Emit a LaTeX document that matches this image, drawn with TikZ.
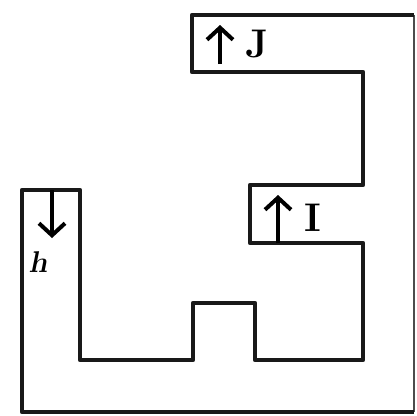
\documentclass[tikz,border=0pt]{standalone}
\usetikzlibrary{arrows.meta}
\begin{document}
\begin{tikzpicture}[x=1pt,y=-1pt,
  wall/.style={line width=4.5pt,line join=round,draw=black!90},
  frame/.style={line width=2pt,draw=black!70},
  upar/.style={line width=4pt,-{Straight Barb[length=12pt,width=26pt,line width=4pt]}},
  lbl/.style={font=\fontsize{40}{40}\selectfont\bfseries,inner sep=0pt}]
\useasboundingbox (0,0) rectangle (417,415);
\draw[frame] (414,15) -- (414,412);
\draw[wall] (414,15) -- (192,15) -- (192,72) -- (363,72) -- (363,185) -- (250,185)
  -- (250,243) -- (363,243) -- (363,360) -- (255,360) -- (255,303) -- (193,303)
  -- (193,360) -- (80,360) -- (80,190) -- (22,190) -- (22,412) -- (414,412);
\coordinate (ja) at (220,64);
\coordinate (jb) at (220,25);
\coordinate (ia) at (278,243);
\coordinate (ib) at (278,195);
\coordinate (ha) at (52,190);
\coordinate (hb) at (52,238);
\draw[upar] (ja) -- (jb);
\draw[upar] (ia) -- (ib);
\draw[upar] (ha) -- (hb);
\node[lbl] (J) at (257,44) {J};
\node[lbl] (I) at (313,218) {I};
\node[lbl,font=\fontsize{30}{30}\selectfont\bfseries,xslant=0.2] (h) at (40,262) {h};
\end{tikzpicture}
\end{document}
